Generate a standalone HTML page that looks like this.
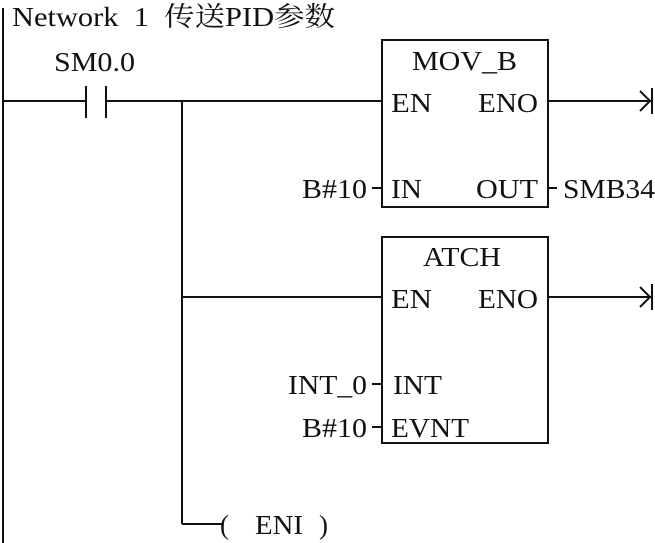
<!DOCTYPE html>
<html><head><meta charset="utf-8"><style>
html,body{margin:0;padding:0;background:#fff;width:655px;height:543px;overflow:hidden}
text{font-family:"Liberation Serif","Noto Serif CJK SC",serif;font-size:27px;fill:#111}
</style></head><body>
<svg width="655" height="543" viewBox="0 0 655 543" xmlns="http://www.w3.org/2000/svg">
<g stroke="#111" stroke-width="2" fill="none">
<line x1="3" y1="8" x2="3" y2="543"/>
<line x1="3" y1="101" x2="86" y2="101"/>
<line x1="86" y1="86" x2="86" y2="118"/>
<line x1="106" y1="86" x2="106" y2="118"/>
<line x1="106" y1="101" x2="382" y2="101"/>
<line x1="182" y1="101" x2="182" y2="524"/>
<line x1="182" y1="297" x2="382" y2="297"/>
<line x1="182" y1="524" x2="222" y2="524"/>
<rect x="382" y="40" width="166" height="167"/>
<rect x="382" y="237" width="166" height="206"/>
<line x1="548" y1="101" x2="652" y2="101"/>
<line x1="652" y1="88" x2="652" y2="114"/>
<polyline points="640,91 650,101 640,111"/>
<line x1="548" y1="297" x2="652" y2="297"/>
<line x1="652" y1="284" x2="652" y2="310"/>
<polyline points="640,287 650,297 640,307"/>
<line x1="372" y1="188" x2="382" y2="188"/>
<line x1="548" y1="188" x2="557" y2="188"/>
<line x1="372" y1="384" x2="382" y2="384"/>
<line x1="372" y1="427" x2="382" y2="427"/>
</g>
<text x="12" y="26" textLength="323" lengthAdjust="spacingAndGlyphs" xml:space="preserve">Network  1  传送PID参数</text>
<text x="54" y="71" textLength="81" lengthAdjust="spacingAndGlyphs">SM0.0</text>
<text x="412" y="70" textLength="105" lengthAdjust="spacingAndGlyphs">MOV_B</text>
<text x="391" y="112" textLength="41" lengthAdjust="spacingAndGlyphs">EN</text>
<text x="478" y="112" textLength="60" lengthAdjust="spacingAndGlyphs">ENO</text>
<text x="302" y="198" textLength="65" lengthAdjust="spacingAndGlyphs">B#10</text>
<text x="391" y="198" textLength="31" lengthAdjust="spacingAndGlyphs">IN</text>
<text x="476" y="198" textLength="62" lengthAdjust="spacingAndGlyphs">OUT</text>
<text x="563" y="198" textLength="92" lengthAdjust="spacingAndGlyphs">SMB34</text>
<text x="423" y="266" textLength="78" lengthAdjust="spacingAndGlyphs">ATCH</text>
<text x="391" y="308" textLength="41" lengthAdjust="spacingAndGlyphs">EN</text>
<text x="478" y="308" textLength="60" lengthAdjust="spacingAndGlyphs">ENO</text>
<text x="288" y="394" textLength="79" lengthAdjust="spacingAndGlyphs">INT_0</text>
<text x="393" y="394" textLength="49" lengthAdjust="spacingAndGlyphs">INT</text>
<text x="302" y="437" textLength="65" lengthAdjust="spacingAndGlyphs">B#10</text>
<text x="391" y="437" textLength="78" lengthAdjust="spacingAndGlyphs">EVNT</text>
<text x="220" y="534">(</text>
<text x="255" y="534" textLength="48" lengthAdjust="spacingAndGlyphs">ENI</text>
<text x="319" y="534">)</text>
</svg>
</body></html>
